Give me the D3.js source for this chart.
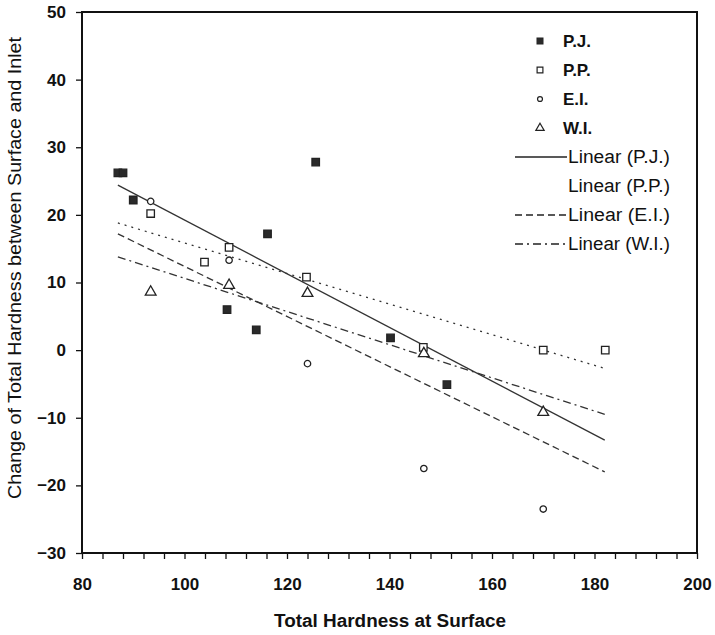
<!DOCTYPE html>
<html>
<head>
<meta charset="utf-8">
<script src="https://cdn.jsdelivr.net/npm/d3@7"></script>
<style>
  body { margin: 0; background: #fff; }
  svg text { font-family: "Liberation Sans", Arial, sans-serif; fill: #111; }
</style>
</head>
<body>
<div id="chart"></div>
<script>
// hardness data
var pjX = [87, 88, 90, 108.3, 114, 116.2, 125.6, 140.2, 151.2];
var pjY = [26.2, 26.2, 22.2, 6.0, 3.0, 17.2, 27.8, 1.8, -5.1];
var ppX = [93.4, 103.9, 108.7, 123.8, 146.6, 170, 182.1];
var ppY = [20.2, 13, 15.2, 10.8, 0.4, 0, 0];
var eiX = [93.4, 108.7, 124, 146.7, 170];
var eiY = [22, 13.3, -2, -17.5, -23.5];
var wiX = [93.4, 108.7, 124, 146.7, 170];
var wiY = [8.6, 9.6, 8.4, -0.5, -9.2];

// trend lines (start / end value) as drawn in the original
var trendX = [87, 182];
var pjTrend = [24.4, -13.3];
var ppTrend = [18.8, -2.7];
var eiTrend = [17.2, -18.0];
var wiTrend = [13.8, -9.5];

var xTicks = d3.range(80, 201, 4);
var yTicks = d3.range(-30, 51, 10);

var width = 715, height = 635;

var svg = d3.select('#chart')
  .append('svg')
  .attr('width', width)
  .attr('height', height);

var x = d3.scaleLinear().domain([80, 200]).range([82, 697]);
var y = d3.scaleLinear().domain([-30, 50]).range([553, 12]);

//axes
var xAxis = svg.append('g')
  .attr('transform', 'translate(0,' + y(-30) + ')')
  .call(d3.axisBottom(x).tickValues(xTicks).tickSize(6).tickPadding(19)
    .tickFormat(function(d) { return d % 20 === 0 ? d : ''; }));
xAxis.select('.domain').remove();
xAxis.selectAll('line').attr('stroke', '#111').attr('stroke-width', 1.3);
xAxis.selectAll('text').attr('font-size', 17).attr('font-weight', 'bold');

var yAxis = svg.append('g')
  .attr('transform', 'translate(' + x(80) + ',0)')
  .call(d3.axisLeft(y).tickValues(yTicks).tickSize(6).tickPadding(10));
yAxis.select('.domain').remove();
yAxis.selectAll('line').attr('stroke', '#111').attr('stroke-width', 1.3);
yAxis.selectAll('text').attr('font-size', 17).attr('font-weight', 'bold');

//frame
svg.append('rect')
  .attr('x', x(80)).attr('y', y(50))
  .attr('width', x(200) - x(80)).attr('height', y(-30) - y(50))
  .attr('fill', 'none').attr('stroke', '#111').attr('stroke-width', 2);

//axis titles
svg.append('text')
  .attr('x', 390).attr('y', 627)
  .attr('text-anchor', 'middle')
  .attr('font-size', 18).attr('font-weight', 'bold')
  .attr('textLength', 232).attr('lengthAdjust', 'spacingAndGlyphs')
  .text('Total Hardness at Surface');

svg.append('text')
  .attr('transform', 'translate(21,' + 268 + ') rotate(-90)')
  .attr('text-anchor', 'middle')
  .attr('font-size', 18)
  .attr('textLength', 462).attr('lengthAdjust', 'spacingAndGlyphs')
  .text('Change of Total Hardness between Surface and Inlet');

//trend lines
var dashes = { pj: null, pp: '2,5', ei: '7,4', wi: '8,4,2,4' };
function drawTrend(vals, dash) {
  var pts = trendX.map(function(d, i) { return [x(d), y(vals[i])]; });
  svg.append('path')
    .attr('d', d3.line()(pts))
    .attr('fill', 'none')
    .attr('stroke', '#333')
    .attr('stroke-width', 1.3)
    .attr('stroke-dasharray', dash);
}
drawTrend(pjTrend, dashes.pj);
drawTrend(ppTrend, dashes.pp);
drawTrend(eiTrend, dashes.ei);
drawTrend(wiTrend, dashes.wi);

//markers
var symSquare = d3.symbol().type(d3.symbolSquare).size(56);
var symCircle = d3.symbol().type(d3.symbolCircle).size(32);
var symTri = d3.symbol().type(d3.symbolTriangle).size(50);

function drawPoints(xs, ys, sym, filled) {
  svg.append('g').selectAll('path')
    .data(xs)
    .enter()
    .append('path')
    .attr('d', sym)
    .attr('transform', function(d, i) { return 'translate(' + x(d) + ',' + y(ys[i]) + ')'; })
    .attr('fill', filled ? '#2a2a2a' : '#fff')
    .attr('stroke', '#222')
    .attr('stroke-width', 1.3);
}
drawPoints(pjX, pjY, symSquare, true);
drawPoints(ppX, ppY, symSquare, false);
drawPoints(eiX, eiY, symCircle, false);
drawPoints(wiX, wiY, symTri, false);

//legend
var legend = svg.append('g');
var legendMarks = [
  { label: 'P.J.', sym: symSquare, filled: true },
  { label: 'P.P.', sym: symSquare, filled: false },
  { label: 'E.I.', sym: symCircle, filled: false },
  { label: 'W.I.', sym: symTri, filled: false }
];
legendMarks.forEach(function(m, i) {
  var ly = 41 + i * 29;
  legend.append('path')
    .attr('d', d3.symbol().type(m.sym.type()).size(m.sym.size()() * 0.6)())
    .attr('transform', 'translate(540,' + ly + ')')
    .attr('fill', m.filled ? '#2a2a2a' : '#fff')
    .attr('stroke', '#222').attr('stroke-width', 1.2);
  legend.append('text')
    .attr('x', 563).attr('y', ly + 6)
    .attr('font-size', 17).attr('font-weight', 'bold')
    .text(m.label);
});
var legendLines = [
  { label: 'Linear (P.J.)', dash: dashes.pj, show: true },
  { label: 'Linear (P.P.)', dash: dashes.pp, show: false },
  { label: 'Linear (E.I.)', dash: dashes.ei, show: true },
  { label: 'Linear (W.I.)', dash: dashes.wi, show: true }
];
legendLines.forEach(function(m, i) {
  var ly = 157 + i * 29;
  if (m.show) {
    legend.append('line')
      .attr('x1', 515).attr('x2', 567).attr('y1', ly).attr('y2', ly)
      .attr('stroke', '#222').attr('stroke-width', 1.3)
      .attr('stroke-dasharray', m.dash);
  }
  legend.append('text')
    .attr('x', 568).attr('y', ly + 6)
    .attr('font-size', 18)
    .attr('textLength', 102).attr('lengthAdjust', 'spacingAndGlyphs')
    .text(m.label);
});
</script>
</body>
</html>
